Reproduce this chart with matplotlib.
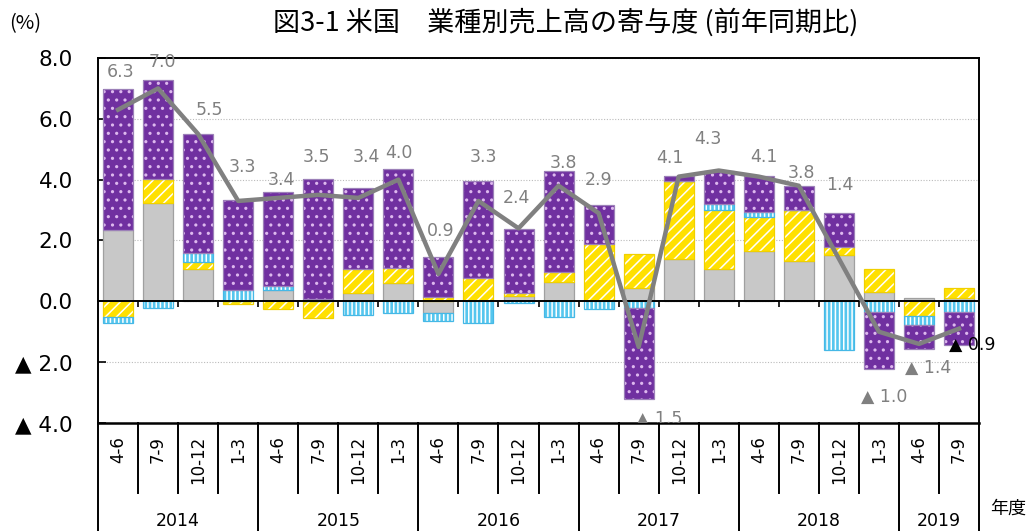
import matplotlib
matplotlib.use('Agg')
import matplotlib.pyplot as plt
import numpy as np

# 四半期 (年度) と各系列の寄与度
quarters = ['4-6', '7-9', '10-12', '1-3'] * 5 + ['4-6', '7-9']
years = ['2014', '2015', '2016', '2017', '2018', '2019']
year_counts = [4, 4, 4, 4, 4, 2]

gray_part = [2.35, 3.23, 1.06, 0.00, 0.38, 0.00, 0.27, 0.60, -0.40, 0.00, 0.18,
             0.65, 0.00, 0.43, 1.39, 1.06, 1.66, 1.34, 1.53, 0.32, 0.10, 0.12]
yellow_part = [-0.50, 0.79, 0.22, -0.08, -0.26, -0.55, 0.79, 0.51, 0.15, 0.76, 0.09,
               0.30, 1.88, 1.13, 2.57, 1.95, 1.10, 1.65, 0.25, 0.74, -0.47, 0.31]
blue_part = [-0.22, -0.22, 0.31, 0.38, 0.14, 0.08, -0.44, -0.39, -0.25, -0.70, -0.06,
             -0.50, -0.26, -0.22, 0.00, 0.19, 0.19, 0.00, -1.60, -0.34, -0.30, -0.34]
purple_part = [4.63, 3.24, 3.92, 2.96, 3.09, 3.95, 2.68, 3.25, 1.32, 3.20, 2.11,
               3.34, 1.29, -3.00, 0.17, 1.07, 1.18, 0.79, 1.14, -1.89, -0.79, -1.09]
total = [6.3, 7.0, 5.5, 3.3, 3.4, 3.5, 3.4, 4.0, 0.9, 3.3, 2.4,
         3.8, 2.9, -1.5, 4.1, 4.3, 4.1, 3.8, 1.4, -1.0, -1.4, -0.9]

# ラベル位置 (pixel offset)
label_offsets = [(2, 38), (4, 26), (11, 24), (4, 34), (3, 18), (-2, 38), (8, 41),
                 (0, 27), (2, 43), (5, 44), (-2, 30), (5, 23), (0, 33), (21, -72),
                 (-9, 19), (-11, 32), (5, 20), (3, 13), (1, 74), (5, -65), (9, -24),
                 (13, -16)]

plt.rcParams['font.family'] = ['DejaVu Sans', 'Noto Sans CJK JP']
plt.rcParams['hatch.linewidth'] = 1.1
cjk = ['Noto Sans CJK JP', 'DejaVu Sans']

fig = plt.figure(figsize=(10.31, 5.31), dpi=100)
ax = fig.add_axes([0.0951, 0.2034, 0.8545, 0.6874])
x = np.arange(len(quarters))

series = [
    (gray_part, '#C8C8C8', None, '#C8C8C8', '#A0A0A0'),
    (yellow_part, '#FFE000', '///', 'white', '#F0D000'),
    (blue_part, '#55C6EE', '||||', 'white', '#45B8E6'),
    (purple_part, '#7030A0', '..', '#DDB8EE', '#9C80B8'),
]
pos = np.zeros(len(x))
neg = np.zeros(len(x))
for vals, face, hatch, hcol, ecol in series:
    v = np.array(vals)
    bottom = np.where(v >= 0, pos, neg)
    ax.bar(x, v, 0.75, bottom=bottom, color=face, edgecolor=hcol, hatch=hatch,
           linewidth=0, zorder=2)
    ax.bar(x, v, 0.75, bottom=bottom, fill=False, edgecolor=ecol, linewidth=0.9,
           zorder=2)
    pos += np.clip(v, 0, None)
    neg += np.clip(v, None, 0)

ax.plot(x, total, color='#808080', lw=3.2, zorder=4)

for i, v in enumerate(total):
    txt = f'{v:.1f}' if v >= 0 else f'▲ {abs(v):.1f}'
    col = 'black' if i == len(total) - 1 else '#808080'
    ax.annotate(txt, (i, v), xytext=label_offsets[i], textcoords='offset pixels',
                ha='center', va='center', fontsize=12.5, color=col, zorder=5,
                annotation_clip=False, clip_on=(i == 13))

ax.set_xlim(-0.5, len(x) - 0.5)
ax.set_ylim(-4, 8)
yt = np.arange(-4, 9, 2)
ax.set_yticks(yt)
ax.set_yticklabels([f'{t:.1f}' if t >= 0 else f'▲ {abs(t):.1f}' for t in yt])
ax.tick_params(axis='y', direction='in', length=6, width=1.2, pad=18, labelsize=15.5)
ax.yaxis.grid(True, ls=(0, (1, 1.5)), color='#bbbbbb', lw=0.8)
ax.set_axisbelow(True)

ax.spines['bottom'].set_position(('data', 0))
ax.set_xticks(np.arange(0.5, len(x) - 1, 1))
ax.tick_params(axis='x', direction='out', length=4.5, width=1.2, labelbottom=False)
for s in ['left', 'right', 'top', 'bottom']:
    ax.spines[s].set_linewidth(1.4)
ax.axhline(-4, color='black', lw=1.8, clip_on=False, zorder=3)

# 下の区分軸
trans = ax.get_xaxis_transform()
bounds = np.concatenate([[-0.5], np.cumsum(year_counts) - 0.5])
for b in np.arange(0.5, len(x) - 1, 1):
    if b not in bounds:
        ax.plot([b, b], [0, -0.192], transform=trans, color='black', lw=1.4,
                clip_on=False)
for b in bounds:
    ax.plot([b, b], [0, -0.4], transform=trans, color='black', lw=1.4, clip_on=False)
for i, q in enumerate(quarters):
    ax.text(i, -0.036, q, rotation=90, ha='center', va='top', transform=trans,
            fontsize=12)
for k, yr in enumerate(years):
    ax.text((bounds[k] + bounds[k + 1]) / 2, -0.268, yr, ha='center', va='center',
            transform=trans, fontsize=12.5)

fig.text(566 / 1031, 1 - 22 / 531, '図3-1 米国　業種別売上高の寄与度 (前年同期比)',
         ha='center', va='center', fontsize=19.5, family=cjk)
fig.text(25 / 1031, 1 - 24 / 531, '(%)', ha='center', va='center', fontsize=14.5,
         family=cjk)
fig.text(1008 / 1031, 1 - 509 / 531, '年度', ha='center', va='center', fontsize=13,
         family=cjk)

fig.savefig('out.png', dpi=100)
